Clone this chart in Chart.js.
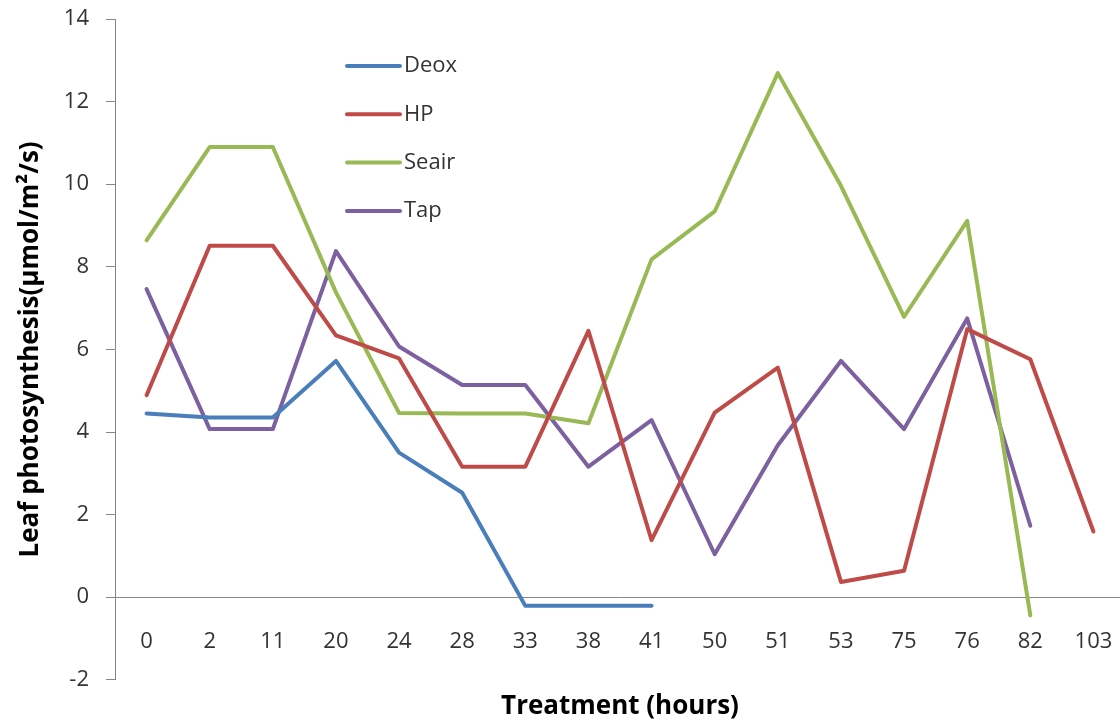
<!DOCTYPE html>
<html><head><meta charset="utf-8">
<script src="https://cdn.jsdelivr.net/npm/chart.js@4.4.1/dist/chart.umd.min.js"></script>
<style>
html,body{margin:0;padding:0;background:#fff;overflow:hidden;width:1120px;height:722px}
#wrap{width:1126px;height:722px;position:relative}
</style></head>
<body><div id="wrap"><canvas id="c" width="1126" height="722"></canvas></div>
<script>
const categories = ['0','2','11','20','24','28','33','38','41','50','51','53','75','76','82','103'];
const deox  = [4.45,4.35,4.35,5.72,3.50,2.53,-0.21,-0.21,-0.21,null,null,null,null,null,null,null];
const hp    = [4.89,8.51,8.51,6.34,5.78,3.16,3.16,6.45,1.38,4.47,5.56,0.37,0.64,6.49,5.76,1.59];
const seair = [8.64,10.90,10.90,7.38,4.46,4.45,4.45,4.21,8.18,9.34,12.69,9.96,6.79,9.11,-0.44,null];
const tap   = [7.46,4.07,4.07,8.38,6.07,5.14,5.14,3.16,4.29,1.04,3.68,5.72,4.07,6.75,1.73,null];
const seriesNames = ['Deox','HP','Seair','Tap'];
const seriesColors = ['#4A7EBB','#BE4B48','#98B954','#7D60A0'];
const yTicks = [-2,0,2,4,6,8,10,12,14];

const FONT = '"Open Sans", "DejaVu Sans", sans-serif';
const TEXT = '#333333';
const AXIS = '#868686';

const legendPlugin = {
  id: 'insideLegend',
  afterDatasetsDraw(chart) {
    const ctx = chart.ctx;
    const a = chart.chartArea;
    const x0 = a.left + 232, y0 = a.top + 47, dy = 48.3;
    ctx.save();
    chart.data.datasets.forEach((ds, i) => {
      const y = y0 + i * dy;
      ctx.strokeStyle = ds.borderColor;
      ctx.lineWidth = 4;
      ctx.lineCap = 'round';
      ctx.beginPath();
      ctx.moveTo(x0, y);
      ctx.lineTo(x0 + 53, y);
      ctx.stroke();
      ctx.fillStyle = TEXT;
      ctx.font = '22px ' + FONT;
      ctx.textBaseline = 'middle';
      ctx.textAlign = 'left';
      ctx.fillText(ds.label, x0 + 57, y);
    });
    ctx.restore();
  }
};

const seriesData = [deox, hp, seair, tap];
new Chart(document.getElementById('c'), {
  type: 'line',
  data: {
    labels: categories,
    datasets: seriesData.map((d, i) => ({
      label: seriesNames[i],
      data: d,
      borderColor: seriesColors[i],
      backgroundColor: seriesColors[i],
      borderWidth: 4,
      pointRadius: 0,
      pointHoverRadius: 0,
      tension: 0,
      spanGaps: false,
      borderCapStyle: 'round',
      borderJoinStyle: 'round'
    }))
  },
  options: {
    responsive: false,
    animation: false,
    devicePixelRatio: 1,
    layout: { padding: { left: 0, right: 1, top: 19, bottom: 0 } },
    plugins: {
      legend: { display: false },
      tooltip: { enabled: false },
      title: {
        display: true,
        text: 'Treatment (hours)',
        position: 'bottom',
        fullSize: false,
        color: '#000',
        font: { family: FONT, size: 26, weight: 'bold', lineHeight: 1.2 },
        padding: { top: 11, bottom: 0 }
      }
    },
    scales: {
      x: {
        position: { y: 0 },
        offset: true,
        afterFit(scale) { scale.paddingLeft = 0; scale.paddingRight = 0; scale.paddingTop = 0; scale.paddingBottom = 0; },
        grid: { display: false, drawTicks: false, offset: true },
        border: { display: true, color: AXIS, width: 1 },
        ticks: { color: TEXT, font: { family: FONT, size: 22 }, padding: 31, maxRotation: 0, autoSkip: false }
      },
      y: {
        min: -2, max: 14,
        afterBuildTicks(scale) { scale.ticks = yTicks.map(v => ({ value: v })); },
        afterFit(scale) { scale.width = 115; scale.paddingTop = 0; scale.paddingBottom = 0; },
        grid: { display: true, drawOnChartArea: false, drawTicks: true, tickLength: 9, color: AXIS },
        border: { display: true, color: AXIS, width: 1 },
        ticks: { color: TEXT, font: { family: FONT, size: 22 }, padding: 17 },
        title: {
          display: true,
          text: 'Leaf photosynthesis(μmol/m²/s)',
          color: '#000',
          font: { family: FONT, size: 26, weight: 'bold', lineHeight: 1.2 },
          padding: { top: 15, bottom: 0 }
        }
      }
    }
  },
  plugins: [legendPlugin]
});
</script>
</body></html>
